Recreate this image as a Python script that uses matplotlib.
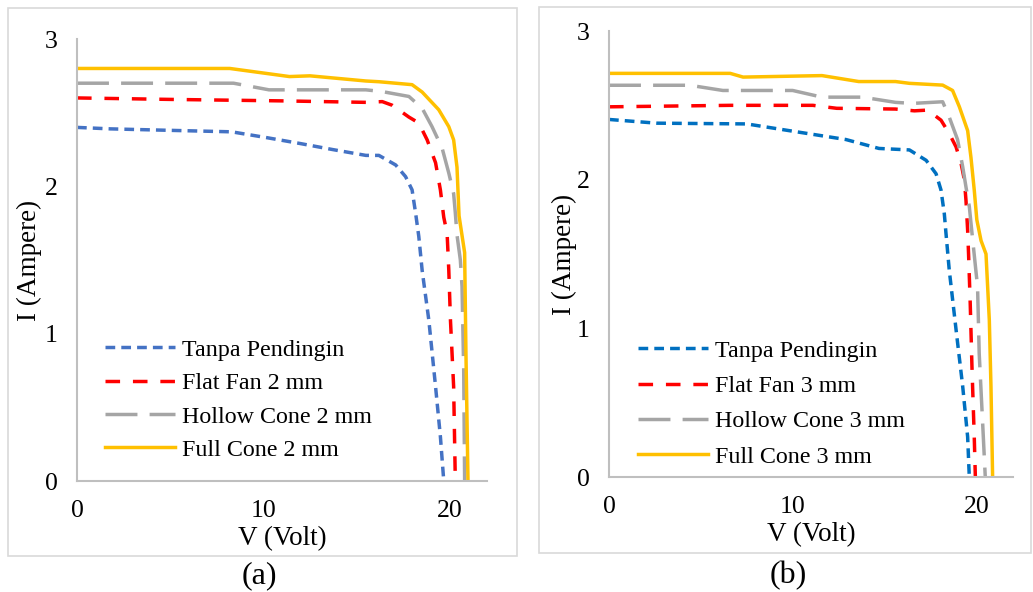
import matplotlib
matplotlib.use('Agg')
import matplotlib.pyplot as plt
from matplotlib.patches import Rectangle

plt.rcParams['font.family'] = ['Liberation Serif', 'DejaVu Serif']

# Panel (a): 2 mm nozzles
a_tanpa_v = [0, 1.8, 5.0, 8.3, 10.2, 12.0, 13.7, 15.5, 16.2, 17.1, 17.63, 17.98, 18.17, 18.34, 18.52, 18.88, 19.24, 19.5, 19.68]
a_tanpa_i = [2.40, 2.39, 2.38, 2.37, 2.33, 2.29, 2.25, 2.21, 2.21, 2.145, 2.066, 1.976, 1.817, 1.66, 1.43, 1.09, 0.64, 0.30, 0]
a_flat_v = [0, 5.0, 11.0, 15.5, 16.38, 16.92, 17.81, 18.34, 18.79, 19.24, 19.5, 19.68, 19.86, 19.95, 20.04, 20.21, 20.3]
a_flat_i = [2.60, 2.59, 2.58, 2.57, 2.575, 2.55, 2.47, 2.43, 2.315, 2.16, 1.975, 1.79, 1.68, 1.43, 1.09, 0.64, 0]
a_hollow_v = [0, 8.4, 10.3, 15.5, 16.38, 17.81, 18.52, 19.05, 19.59, 19.95, 20.21, 20.3, 20.39, 20.57, 20.66, 20.75, 20.8]
a_hollow_i = [2.70, 2.70, 2.655, 2.655, 2.643, 2.61, 2.53, 2.405, 2.26, 2.09, 1.95, 1.82, 1.67, 1.50, 1.32, 0.75, 0]
a_full_v = [0, 8.2, 11.4, 12.5, 15.5, 16.2, 17.98, 18.52, 19.41, 19.95, 20.21, 20.39, 20.5, 20.8, 20.87, 20.98]
a_full_i = [2.80, 2.80, 2.745, 2.75, 2.715, 2.71, 2.69, 2.64, 2.52, 2.405, 2.315, 2.13, 1.80, 1.55, 0.87, 0]

# Panel (b): 3 mm nozzles
b_tanpa_v = [0, 2.6, 7.5, 9.8, 12.9, 14.7, 16.36, 17.27, 17.81, 18.08, 18.26, 18.35, 18.53, 18.9, 19.26, 19.53, 19.62]
b_tanpa_i = [2.405, 2.38, 2.375, 2.33, 2.27, 2.21, 2.20, 2.13, 2.04, 1.93, 1.77, 1.64, 1.39, 0.99, 0.61, 0.27, 0]
b_flat_v = [0, 6.6, 11.1, 12.4, 15.6, 16.63, 17.35, 18.08, 18.53, 18.9, 19.17, 19.35, 19.44, 19.53, 19.58, 19.67, 19.77, 19.89, 19.95]
b_flat_i = [2.49, 2.50, 2.50, 2.48, 2.475, 2.463, 2.468, 2.40, 2.31, 2.22, 2.11, 2.0, 1.86, 1.66, 1.50, 1.17, 0.72, 0.27, 0]
b_hollow_v = [0, 4.4, 6.2, 10.0, 11.6, 13.8, 15.6, 16.54, 18.17, 18.53, 18.98, 19.26, 19.44, 19.62, 19.8, 20.07, 20.16, 20.34, 20.49]
b_hollow_i = [2.635, 2.635, 2.60, 2.60, 2.555, 2.555, 2.52, 2.513, 2.524, 2.42, 2.27, 2.087, 1.95, 1.82, 1.60, 1.28, 0.83, 0.38, 0]
b_full_v = [0, 6.6, 7.3, 11.6, 13.6, 15.6, 16.36, 18.17, 18.71, 19.08, 19.53, 19.71, 19.89, 20.03, 20.26, 20.53, 20.71, 20.8, 20.89]
b_full_i = [2.715, 2.715, 2.69, 2.70, 2.66, 2.66, 2.648, 2.636, 2.60, 2.49, 2.33, 2.15, 1.93, 1.73, 1.59, 1.50, 1.056, 0.61, 0]

W, H = 1033, 592
fig = plt.figure(figsize=(W / 100, H / 100), dpi=100)

lw = 2.5
styles = {
    'tanpa': dict(linestyle=(0, (2.8, 1.75)), linewidth=lw),
    'flat': dict(linestyle=(0, (4.2, 3.7)), linewidth=lw),
    'hollow': dict(linestyle=(0, (9.2, 3.5)), linewidth=lw),
    'full': dict(linestyle='-', linewidth=lw),
}


def panel(rect, box, data, blue, size, caption, cap_x, leg_xy, spacing, ylab_x):
    # light gray frame around each panel
    fig.patches.append(Rectangle((box[0] / W, 1 - box[3] / H), (box[2] - box[0]) / W,
                                 (box[3] - box[1]) / H, transform=fig.transFigure,
                                 fill=False, edgecolor='#d9d9d9', linewidth=1.2))
    ax = fig.add_axes(rect)
    v, i = data['tanpa']
    ax.plot(v, i, color=blue, label='Tanpa Pendingin', **styles['tanpa'])
    v, i = data['flat']
    ax.plot(v, i, color='#ff0000', label=f'Flat Fan {size} mm', **styles['flat'])
    v, i = data['hollow']
    ax.plot(v, i, color='#a5a5a5', label=f'Hollow Cone {size} mm', **styles['hollow'])
    v, i = data['full']
    ax.plot(v, i, color='#ffc000', label=f'Full Cone {size} mm', **styles['full'])

    ax.set_xlim(0, 22)
    ax.set_ylim(0, 3)
    ax.set_xticks([0, 10, 20])
    ax.set_yticks([0, 1, 2, 3])
    ax.tick_params(length=0, labelsize=18.5, pad=14)
    for s in ['top', 'right']:
        ax.spines[s].set_visible(False)
    for s in ['left', 'bottom']:
        ax.spines[s].set_color('#bfbfbf')
        ax.spines[s].set_linewidth(1.5)

    ax.set_xlabel('V (Volt)', fontsize=19.5, va='center')
    ax.set_ylabel('I (Ampere)', fontsize=19.5, va='center')
    ax.xaxis.set_label_coords(0.5, -0.13)
    ax.yaxis.set_label_coords(ylab_x, 0.5)

    ax.legend(loc='upper left', bbox_to_anchor=(leg_xy[0] / W, 1 - leg_xy[1] / H),
              bbox_transform=fig.transFigure, frameon=False, fontsize=17.3,
              handlelength=2.9, handletextpad=0.3, labelspacing=spacing,
              borderpad=0, borderaxespad=0)

    fig.text(cap_x / W, 1 - 576 / H, caption, ha='center', va='center', fontsize=23)
    return ax


data_a = {'tanpa': (a_tanpa_v, a_tanpa_i), 'flat': (a_flat_v, a_flat_i),
          'hollow': (a_hollow_v, a_hollow_i), 'full': (a_full_v, a_full_i)}
data_b = {'tanpa': (b_tanpa_v, b_tanpa_i), 'flat': (b_flat_v, b_flat_i),
          'hollow': (b_hollow_v, b_hollow_i), 'full': (b_full_v, b_full_i)}

panel([77 / W, 1 - 481 / H, 410 / W, 442 / H], (8, 8, 517, 556), data_a,
      '#4472c4', 2, '(a)', 259, (105, 339), 0.48, -0.115)
panel([609 / W, 1 - 477 / H, 404 / W, 446 / H], (539, 7, 1031, 553), data_b,
      '#0070c0', 3, '(b)', 788, (638, 340), 0.56, -0.11)

fig.savefig('out.png', dpi=100, facecolor='white')
